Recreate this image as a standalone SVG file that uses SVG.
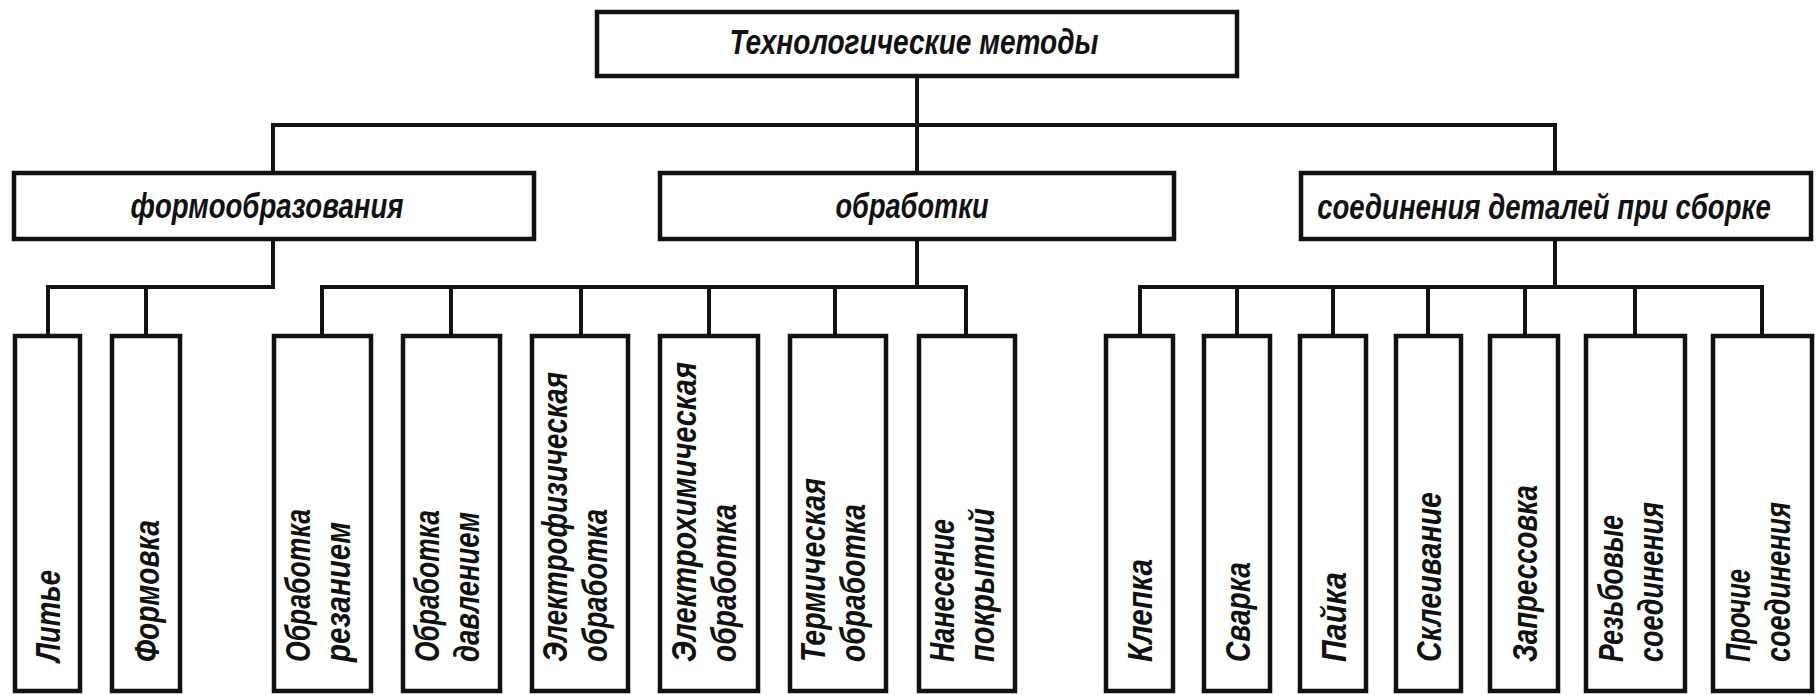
<svg xmlns="http://www.w3.org/2000/svg" width="1818" height="695" viewBox="0 0 1818 695">
  <style>
    .box { fill: #ffffff; stroke: #111111; stroke-width: 4.5; }
    .wire { fill: none; stroke: #111111; stroke-width: 4; stroke-linecap: square; stroke-linejoin: miter; }
    .lbl { font-family: "Liberation Sans", "DejaVu Sans", sans-serif; font-style: italic; font-weight: bold; font-size: 35px; fill: #111111; }
    .mid { text-anchor: middle; }
  </style>
  <rect width="1818" height="695" fill="#ffffff"/>

  <!-- tree connectors -->
  <g id="connectors">
    <path class="wire" d="M917 76 V125 M273 125 H1555 M273 125 V173 M917 125 V173 M1555 125 V173"/>
    <path class="wire" d="M273 239 V287 M48 287 H273 M48 287 V336 M146 287 V336"/>
    <path class="wire" d="M917 239 V287 M322 287 H966 M322 287 V336 M451 287 V336 M581 287 V336 M709 287 V336 M835 287 V336 M966 287 V336"/>
    <path class="wire" d="M1555 239 V287 M1140 287 H1762 M1140 287 V336 M1237 287 V336 M1333 287 V336 M1428 287 V336 M1525 287 V336 M1635 287 V336 M1762 287 V336"/>
  </g>

  <!-- root -->
  <g id="root">
    <rect class="box" x="597" y="12" width="640" height="64"/>
    <text class="lbl mid" x="914" y="54" textLength="369" lengthAdjust="spacingAndGlyphs">Технологические методы</text>
  </g>

  <!-- second level -->
  <g id="forming">
    <rect class="box" x="14" y="173" width="520" height="66"/>
    <text class="lbl mid" x="267" y="218" textLength="273" lengthAdjust="spacingAndGlyphs">формообразования</text>
  </g>
  <g id="machining">
    <rect class="box" x="660" y="173" width="514" height="66"/>
    <text class="lbl mid" x="912" y="218" textLength="153" lengthAdjust="spacingAndGlyphs">обработки</text>
  </g>
  <g id="joining">
    <rect class="box" x="1301" y="173" width="510" height="66"/>
    <!-- long caption: narrowed horizontally so it sits inside the frame -->
    <text class="lbl mid" transform="translate(1544,219) scale(0.8,1)" textLength="567" lengthAdjust="spacingAndGlyphs">соединения деталей при сборке</text>
  </g>

  <!-- third level: forming -->
  <g id="casting">
    <rect class="box" x="15" y="336" width="65" height="355"/>
    <text class="lbl" transform="translate(60,662) rotate(-90)" textLength="92" lengthAdjust="spacingAndGlyphs">Литье</text>
  </g>
  <g id="moulding">
    <rect class="box" x="112" y="336" width="68" height="355"/>
    <text class="lbl" transform="translate(158.5,662) rotate(-90)" textLength="142" lengthAdjust="spacingAndGlyphs">Формовка</text>
  </g>

  <!-- third level: machining -->
  <g id="cutting">
    <rect class="box" x="274" y="336" width="97" height="355"/>
    <g class="lbl" transform="translate(309.5,662) rotate(-90)">
      <text y="0" textLength="153" lengthAdjust="spacingAndGlyphs">Обработка</text>
      <text y="40" textLength="140" lengthAdjust="spacingAndGlyphs">резанием</text>
    </g>
  </g>
  <g id="pressure">
    <rect class="box" x="403" y="336" width="97" height="355"/>
    <g class="lbl" transform="translate(438.5,662) rotate(-90)">
      <text y="0" textLength="152" lengthAdjust="spacingAndGlyphs">Обработка</text>
      <text y="40" textLength="150" lengthAdjust="spacingAndGlyphs">давлением</text>
    </g>
  </g>
  <g id="electrophysical">
    <rect class="box" x="532" y="336" width="96" height="355"/>
    <g class="lbl" transform="translate(567,662) rotate(-90)">
      <text y="0" textLength="290" lengthAdjust="spacingAndGlyphs">Электрофизическая</text>
      <text y="40" textLength="153" lengthAdjust="spacingAndGlyphs">обработка</text>
    </g>
  </g>
  <g id="electrochemical">
    <rect class="box" x="660" y="336" width="98" height="355"/>
    <g class="lbl" transform="translate(696,662) rotate(-90)">
      <text y="0" textLength="300" lengthAdjust="spacingAndGlyphs">Электрохимическая</text>
      <text y="40" textLength="158" lengthAdjust="spacingAndGlyphs">обработка</text>
    </g>
  </g>
  <g id="thermal">
    <rect class="box" x="790" y="336" width="96" height="355"/>
    <g class="lbl" transform="translate(825,662) rotate(-90)">
      <text y="0" textLength="184" lengthAdjust="spacingAndGlyphs">Термическая</text>
      <text y="40" textLength="158" lengthAdjust="spacingAndGlyphs">обработка</text>
    </g>
  </g>
  <g id="coating">
    <rect class="box" x="919" y="336" width="96" height="355"/>
    <g class="lbl" transform="translate(954,662) rotate(-90)">
      <text y="0" textLength="143" lengthAdjust="spacingAndGlyphs">Нанесение</text>
      <text y="40" textLength="154" lengthAdjust="spacingAndGlyphs">покрытий</text>
    </g>
  </g>

  <!-- third level: joining -->
  <g id="riveting">
    <rect class="box" x="1106" y="336" width="67" height="355"/>
    <text class="lbl" transform="translate(1152,662) rotate(-90)" textLength="103" lengthAdjust="spacingAndGlyphs">Клепка</text>
  </g>
  <g id="welding">
    <rect class="box" x="1204" y="336" width="66" height="355"/>
    <text class="lbl" transform="translate(1249.5,662) rotate(-90)" textLength="100" lengthAdjust="spacingAndGlyphs">Сварка</text>
  </g>
  <g id="soldering">
    <rect class="box" x="1300" y="336" width="66" height="355"/>
    <text class="lbl" transform="translate(1345.5,662) rotate(-90)" textLength="90" lengthAdjust="spacingAndGlyphs">Пайка</text>
  </g>
  <g id="gluing">
    <rect class="box" x="1396" y="336" width="65" height="355"/>
    <text class="lbl" transform="translate(1441,662) rotate(-90)" textLength="170" lengthAdjust="spacingAndGlyphs">Склеивание</text>
  </g>
  <g id="press-fit">
    <rect class="box" x="1490" y="336" width="68" height="355"/>
    <text class="lbl" transform="translate(1536.5,662) rotate(-90)" textLength="177" lengthAdjust="spacingAndGlyphs">Запрессовка</text>
  </g>
  <g id="threaded">
    <rect class="box" x="1586" y="336" width="99" height="355"/>
    <g class="lbl" transform="translate(1622.5,662) rotate(-90)">
      <text y="0" textLength="147" lengthAdjust="spacingAndGlyphs">Резьбовые</text>
      <text y="40" textLength="160" lengthAdjust="spacingAndGlyphs">соединения</text>
    </g>
  </g>
  <g id="other">
    <rect class="box" x="1713" y="336" width="99" height="355"/>
    <g class="lbl" transform="translate(1749.5,662) rotate(-90)">
      <text y="0" textLength="93" lengthAdjust="spacingAndGlyphs">Прочие</text>
      <text y="40" textLength="160" lengthAdjust="spacingAndGlyphs">соединения</text>
    </g>
  </g>
</svg>
